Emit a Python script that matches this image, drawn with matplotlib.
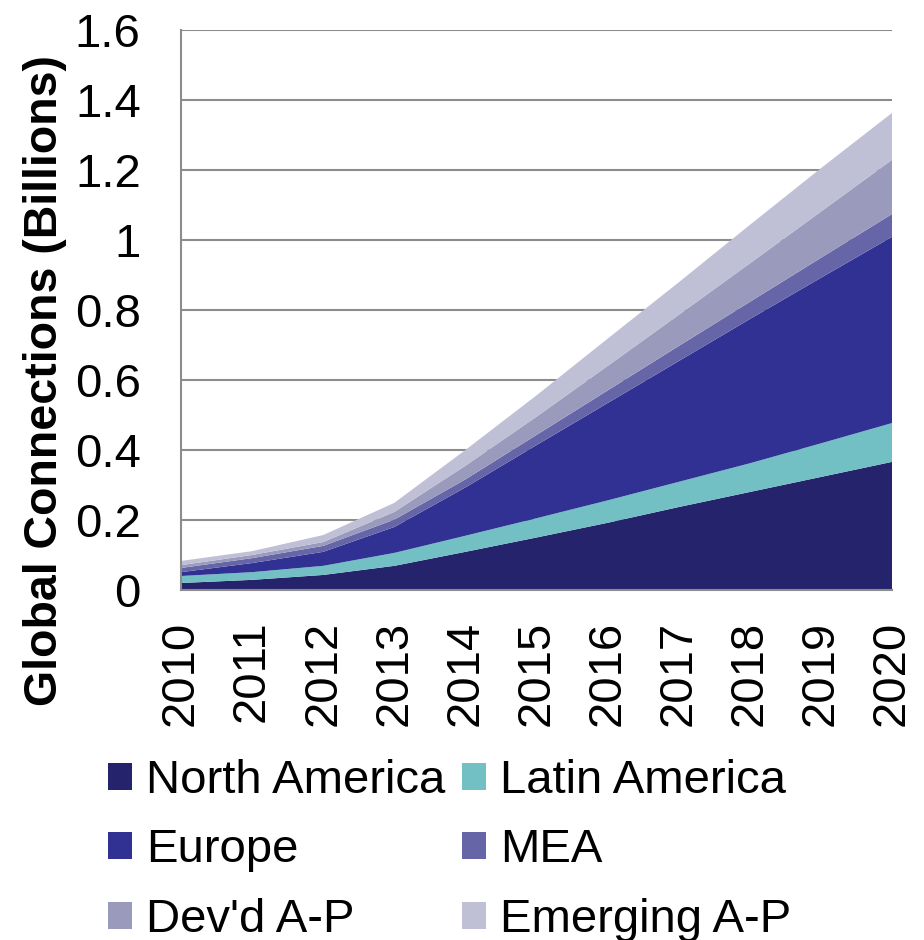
import matplotlib
matplotlib.use('Agg')
import matplotlib.pyplot as plt

# --- data (billions of connections) ---
years = [2010, 2011, 2012, 2013, 2014, 2015, 2016, 2017, 2018, 2019, 2020]
north_america = [0.020, 0.029, 0.043, 0.069, 0.109, 0.150, 0.192, 0.237, 0.280, 0.323, 0.366]
latin_america = [0.020, 0.022, 0.026, 0.037, 0.046, 0.055, 0.064, 0.072, 0.082, 0.096, 0.111]
europe = [0.011, 0.026, 0.040, 0.074, 0.138, 0.209, 0.278, 0.345, 0.412, 0.473, 0.532]
mea = [0.012, 0.014, 0.017, 0.021, 0.023, 0.029, 0.036, 0.043, 0.049, 0.057, 0.065]
devd_ap = [0.008, 0.009, 0.011, 0.022, 0.039, 0.052, 0.070, 0.089, 0.110, 0.132, 0.155]
emerging_ap = [0.012, 0.011, 0.020, 0.026, 0.045, 0.061, 0.078, 0.093, 0.110, 0.124, 0.134]

labels = ['North America', 'Latin America', 'Europe', 'MEA', "Dev'd A-P", 'Emerging A-P']
colors = ['#25236b', '#72bfc4', '#303193', '#6565a8', '#9a9abd', '#bfbfd6']

plt.rcParams['font.family'] = ['Liberation Sans', 'DejaVu Sans']

fig = plt.figure(figsize=(9.24, 9.4), dpi=100)
ax = fig.add_axes([181 / 924, 1 - 590 / 940, (892 - 181) / 924, (590 - 30) / 940])

polys = ax.stackplot(years, north_america, latin_america, europe, mea, devd_ap, emerging_ap,
                     colors=colors, labels=labels, linewidth=0, zorder=2)

grid_col = '#8c8c8c'
ax.set_xlim(2010, 2020)
ax.set_ylim(0, 1.6)
ax.set_yticks([0, 0.2, 0.4, 0.6, 0.8, 1.0, 1.2, 1.4, 1.6])
ax.set_yticklabels(['0', '0.2', '0.4', '0.6', '0.8', '1', '1.2', '1.4', '1.6'])
ax.set_xticks(years)
ax.set_xticklabels([str(y) for y in years], rotation=90)
ax.tick_params(axis='both', length=0, labelsize=34)
ax.tick_params(axis='x', pad=22)
ax.tick_params(axis='y', pad=29)
ax.grid(axis='y', color=grid_col, linewidth=1.5, zorder=1)
ax.set_axisbelow(True)
for side in ['top', 'right']:
    ax.spines[side].set_visible(False)
for side in ['left', 'bottom']:
    ax.spines[side].set_color(grid_col)
    ax.spines[side].set_linewidth(1.5)

fig.text(45 / 924, 1 - 380 / 940, 'Global Connections (Billions)', rotation=90,
         ha='center', va='center', fontsize=33.5, fontweight='bold')

# legend laid out row by row like the original (matplotlib fills columns first)
order = [0, 2, 4, 1, 3, 5]
fig.legend([polys[i] for i in order], [labels[i] for i in order], ncol=2,
           loc='upper left', bbox_to_anchor=(108 / 924, 1 - 759 / 940),
           frameon=False, fontsize=34, handlelength=0.5, handleheight=0.5,
           handletextpad=0.3, columnspacing=0.36, labelspacing=0.54,
           borderpad=0, borderaxespad=0)

fig.savefig('out.png', dpi=100)
